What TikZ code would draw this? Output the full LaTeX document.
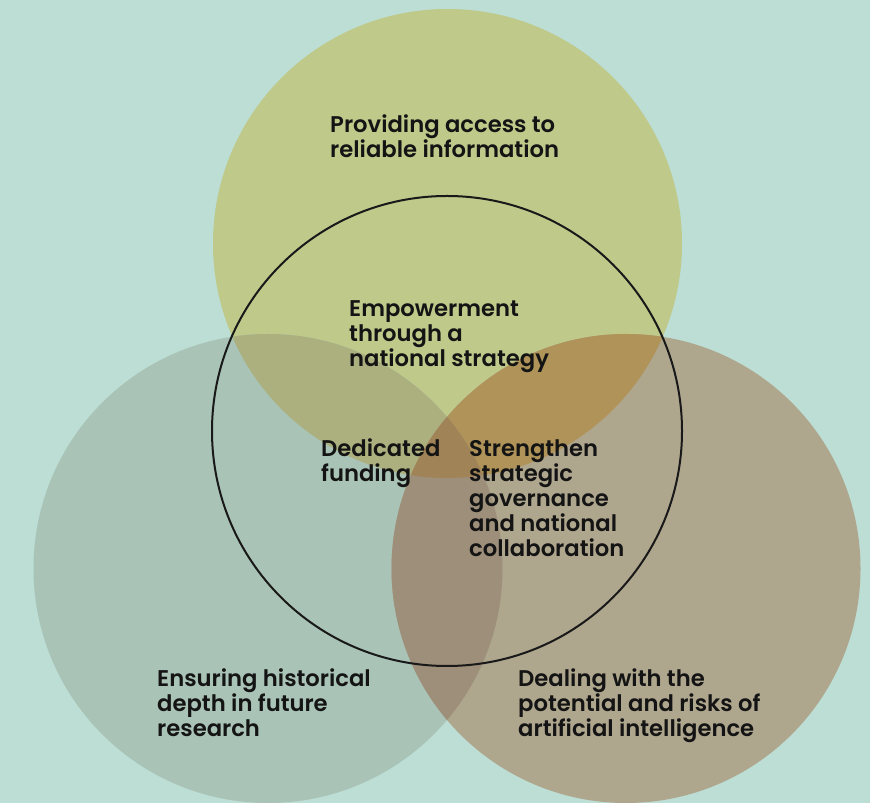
\documentclass[tikz,border=0pt]{standalone}
\usepackage{fontspec}
\setmainfont{Poppins}[UprightFont=* SemiBold]
\usetikzlibrary{positioning}

\definecolor{bgteal}{HTML}{BCDED4}
\definecolor{olivefill}{HTML}{BFC98A}
\definecolor{sagefill}{HTML}{A9C3B6}
\definecolor{tanfill}{HTML}{AFA68E}
\definecolor{olivesage}{HTML}{ABB07E}
\definecolor{olivetan}{HTML}{AF9358}
\definecolor{sagetan}{HTML}{9D8F7A}
\definecolor{allthree}{HTML}{A08356}

\begin{document}
\begin{tikzpicture}[x=1pt,y=1pt,
    venn_label/.style ={anchor=base west, align=left, inner sep=0pt,
      font=\fontsize{22.7}{25}\selectfont, text=black!92},
    ring/.style ={draw=black!90, line width=2pt}]
  % canvas
  \fill[bgteal] (0,0) rectangle (870,803);
  \useasboundingbox (0,0) rectangle (870,803);
  % circle centres
  \coordinate (c_top) at (447.5,559.5);
  \coordinate (c_left) at (268,234.5);
  \coordinate (c_right) at (626,234.5);
  \coordinate (c_ring) at (447,372);
  % plain circles
  \fill[olivefill] (c_top) circle (234.5);
  \fill[sagefill] (c_left) circle (234.5);
  \fill[tanfill] (c_right) circle (234.5);
  % overlaps
  \begin{scope}
    \clip (c_top) circle (234.5);
    \fill[olivesage] (c_left) circle (234.5);
  \end{scope}
  \begin{scope}
    \clip (c_top) circle (234.5);
    \fill[olivetan] (c_right) circle (234.5);
  \end{scope}
  \begin{scope}
    \clip (c_left) circle (234.5);
    \fill[sagetan] (c_right) circle (234.5);
  \end{scope}
  \begin{scope}
    \clip (c_top) circle (234.5);
    \clip (c_left) circle (234.5);
    \fill[allthree] (c_right) circle (234.5);
  \end{scope}
  % outline
  \draw[ring] (c_ring) circle (235);
  % labels (anchored at the baseline of the last line)
  \node[venn_label] (access) at (330,645) {Providing access to\\reliable information};
  \node[venn_label] (empower) at (349,436) {Empowerment\\through a\\national strategy};
  \node[venn_label] (funding) at (321,321) {Dedicated\\funding};
  \node[venn_label] (governance) at (469,246) {Strengthen\\strategic\\governance\\and national\\collaboration};
  \node[venn_label] (history) at (157,66) {Ensuring historical\\depth in future\\research};
  \node[venn_label] (ai) at (518,66) {Dealing with the\\potential and risks of\\artificial intelligence};
\end{tikzpicture}
\end{document}
